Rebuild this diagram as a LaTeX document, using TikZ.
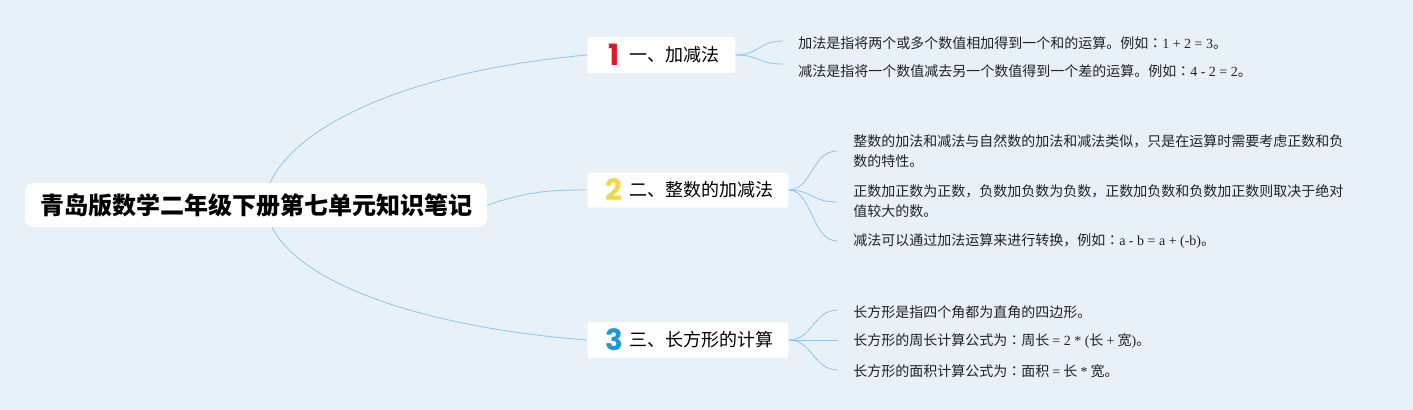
\documentclass[tikz,border=0pt]{standalone}
\usepackage{fontspec}
\usetikzlibrary{calc}
\newfontfamily\cjk{Noto Sans CJK SC}
\newfontfamily\cjktc{Noto Sans CJK TC}
\newfontfamily\lat{Liberation Serif}
\newfontfamily\numf{Poppins}
\newcommand{\fcolon}{{\cjktc ：}}
\definecolor{bg}{HTML}{E8F0F8}
\definecolor{ln}{HTML}{8CC7E9}
\definecolor{nred}{HTML}{E0182D}
\definecolor{nyel}{HTML}{F5D544}
\definecolor{nblu}{HTML}{1E96DE}
\definecolor{leaftxt}{HTML}{222222}
\tikzset{
  x=0.75pt, y=-0.75pt,
  rootbox/.style={fill=white, rounded corners=6pt, minimum width=346.5pt, minimum height=33pt, inner sep=0pt,
    font=\cjk\bfseries\fontsize{18}{22}\selectfont},
  branchbox/.style={fill=white, rounded corners=2pt, anchor=west, minimum height=27pt, inner sep=0pt},
  numtxt/.style={inner sep=0pt, font=\numf\bfseries\fontsize{22}{22}\selectfont},
  btext/.style={anchor=west, inner sep=0pt, font=\cjk\fontsize{13.5}{16}\selectfont},
  leaf/.style={anchor=west, inner sep=0pt, align=left, text=leaftxt, font=\cjk\fontsize{10.5}{15}\selectfont},
  conn/.style={draw=ln, line width=0.6pt},
}
\begin{document}
\begin{tikzpicture}
\fill[bg] (0,0) rectangle (1413,410);
\useasboundingbox (0,0) rectangle (1413,410);

% root
\node[rootbox] (root) at (256,205) {青岛版数学二年级下册第七单元知识笔记};

% branch boxes
\node[branchbox, minimum width=111pt] (b1) at (587,55) {};
\node[branchbox, minimum width=150.75pt, minimum height=26.25pt] (b2) at (587,190) {};
\node[branchbox, minimum width=150.75pt] (b3) at (587,340) {};

\node[numtxt, text=nred] (n1) at (614,55) {1};
\node[numtxt, text=nyel] (n2) at (614,190) {2};
\node[numtxt, text=nblu] (n3) at (614,340) {3};

\node[btext] (t1) at (629,55) {一、加减法};
\node[btext] (t2) at (629,190) {二、整数的加减法};
\node[btext] (t3) at (629,340) {三、长方形的计算};

% leaves
\node[leaf] (l11) at (798,43) {加法是指将两个或多个数值相加得到一个和的运算。例如\fcolon{\lat 1 + 2 = 3}。};
\node[leaf] (l12) at (798,71) {减法是指将一个数值减去另一个数值得到一个差的运算。例如\fcolon{\lat 4 - 2 = 2}。};

\node[leaf] (l21) at (853,151.5) {整数的加法和减法与自然数的加法和减法类似，只是在运算时需要考虑正数和负\\数的特性。};
\node[leaf] (l22) at (853,201.5) {正数加正数为正数，负数加负数为负数，正数加负数和负数加正数则取决于绝对\\值较大的数。};
\node[leaf] (l23) at (853,241) {减法可以通过加法运算来进行转换，例如\fcolon{\lat a - b = a + (-b)}。};

\node[leaf] (l31) at (853,312) {长方形是指四个角都为直角的四边形。};
\node[leaf] (l32) at (853,341) {长方形的周长计算公式为\fcolon 周长 {\lat = 2 * (}长 {\lat +} 宽{\lat )}。};
\node[leaf] (l33) at (853,371) {长方形的面积计算公式为\fcolon 面积 {\lat =} 长 {\lat *} 宽。};

% connector ends
\coordinate (e11) at (783,41);
\coordinate (e12) at (783,64);
\coordinate (e21) at (837,151);
\coordinate (e22) at (837,202);
\coordinate (e23) at (837,241);
\coordinate (e31) at (838,310);
\coordinate (e32) at (838,340);
\coordinate (e33) at (838,370);

% root to branches
\draw[conn] ($(root.north)+(14,0)$) .. controls (300,120) and (420,70) .. (b1.west);
\draw[conn] (root.east) .. controls (530,191) and (550,190) .. (b2.west);
\draw[conn] ($(root.south)+(16,0)$) .. controls (300,283) and (420,327) .. (b3.west);

% branches to leaves
\draw[conn] (b1.east) .. controls (760,55) and (758,41) .. (e11);
\draw[conn] (b1.east) .. controls (760,55) and (758,64) .. (e12);

\draw[conn] (b2.east) .. controls (812,190) and (812,151) .. (e21);
\draw[conn] (b2.east) .. controls (812,190) and (812,202) .. (e22);
\draw[conn] (b2.east) .. controls (812,190) and (812,241) .. (e23);

\draw[conn] (b3.east) .. controls (813,340) and (813,310) .. (e31);
\draw[conn] (b3.east) -- (e32);
\draw[conn] (b3.east) .. controls (813,340) and (813,370) .. (e33);
\end{tikzpicture}
\end{document}
